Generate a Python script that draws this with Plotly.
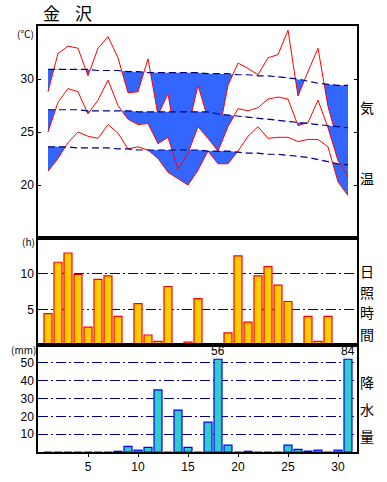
import numpy as np
import plotly.graph_objects as go
from plotly.subplots import make_subplots

# ---------------- data ----------------
days = list(range(1, 32))

tmax = [28.8, 32.4, 33.1, 32.9, 30.3, 32.9, 34.0, 32.0, 28.7, 28.8,
        31.9, 26.6, 28.6, 23.0, 25.3, 29.4, 26.2, 24.5, 29.4, 31.5,
        31.0, 30.4, 32.0, 32.3, 34.6, 28.4, 30.7, 32.9, 27.4, 24.0, 22.5]
tmean = [25.0, 27.8, 29.1, 28.8, 26.7, 28.0, 29.9, 27.5, 26.2, 25.7,
         25.8, 23.9, 24.5, 21.5, 23.0, 25.5, 24.4, 23.2, 25.5, 27.2,
         27.0, 27.3, 28.1, 28.3, 28.1, 25.6, 25.9, 28.0, 25.4, 22.3, 20.8]
tmin = [21.3, 22.5, 24.0, 25.0, 24.6, 24.4, 25.7, 24.9, 23.4, 23.6,
        23.3, 22.5, 21.2, 20.6, 20.0, 21.4, 23.2, 22.0, 22.0, 23.2,
        24.6, 25.5, 24.4, 24.5, 24.5, 24.1, 24.3, 24.3, 23.6, 20.3, 19.0]

tmax_norm = [30.9, 30.9, 30.9, 30.9, 30.9, 30.8, 30.8, 30.8, 30.7, 30.7,
             30.6, 30.6, 30.6, 30.6, 30.6, 30.6, 30.5, 30.5, 30.5, 30.4,
             30.4, 30.3, 30.3, 30.2, 30.1, 30.0, 29.8, 29.6, 29.5, 29.4, 29.4]
tmean_norm = [27.1, 27.1, 27.1, 27.1, 27.0, 27.0, 27.0, 27.0, 27.0, 26.9,
              26.9, 26.9, 26.9, 26.9, 26.9, 26.9, 26.9, 26.7, 26.6, 26.5,
              26.4, 26.3, 26.2, 26.1, 26.0, 25.9, 25.8, 25.7, 25.6, 25.5, 25.4]
tmin_norm = [23.6, 23.6, 23.6, 23.5, 23.5, 23.5, 23.5, 23.4, 23.4, 23.3,
             23.3, 23.3, 23.3, 23.3, 23.3, 23.3, 23.2, 23.2, 23.2, 23.1,
             23.0, 23.0, 22.9, 22.9, 22.8, 22.7, 22.6, 22.4, 22.2, 22.0, 21.9]

sunshine = [4.4, 11.6, 12.9, 9.9, 2.5, 9.2, 9.7, 4.0, 0.0, 5.8,
            1.4, 0.5, 8.2, 0.0, 0.4, 6.5, 0.0, 0.0, 1.7, 12.5,
            3.2, 9.7, 11.0, 8.4, 6.1, 0.1, 4.0, 0.5, 4.0, 0.0, 0.0]

rain = [0.0, 0.0, 0.0, 0.0, 0.0, 0.0, 0.0, 0.4, 3.2, 1.0,
        2.6, 34.8, 0.0, 23.5, 2.6, 0.0, 16.7, 56.0, 3.8, 0.0,
        0.4, 0.0, 0.0, 0.0, 3.8, 1.5, 0.5, 1.0, 0.0, 1.0, 84.0]
RAIN_CAP = 52  # bars above this are clipped and labelled

temp_ticks = [20, 25, 30]
sun_ticks = [5, 10]
rain_ticks = [10, 20, 30, 40, 50]
day_ticks = [5, 10, 15, 20, 25, 30]

# ---------------- style ----------------
BLUE = "#3366FF"
RED = "#FF0000"
NAVY = "#000080"
GOLD = "#FFCC00"
TURQ = "#33CCCC"
FONT = "Liberation Sans"
JFONT = "Noto Sans CJK JP"

W, H = 387, 482
# plot area in window pixels: x 38..357, y 26..452
ML, MR, MT, MB = 38, W - 357, 26, H - 452

fig = make_subplots(rows=3, cols=1, shared_xaxes=True, vertical_spacing=0,
                    row_heights=[212, 107, 107])


def below_band(x, norm, act):
    xs, ns, ls = [], [], []
    n = len(x)
    for i in range(n):
        xs.append(x[i]); ns.append(norm[i]); ls.append(min(norm[i], act[i]))
        if i < n - 1:
            d0 = act[i] - norm[i]
            d1 = act[i + 1] - norm[i + 1]
            if d0 * d1 < 0:
                t = d0 / (d0 - d1)
                xc = x[i] + t * (x[i + 1] - x[i])
                nc = norm[i] + t * (norm[i + 1] - norm[i])
                xs.append(xc); ns.append(nc); ls.append(nc)
    return xs, ns, ls


def add_fill(act, norm):
    xs, ns, ls = below_band(days, norm, act)
    fig.add_trace(go.Scatter(x=xs, y=ns, mode="lines", line=dict(width=0),
                             hoverinfo="skip", showlegend=False), row=1, col=1)
    fig.add_trace(go.Scatter(x=xs, y=ls, mode="lines", line=dict(width=0),
                             fill="tonexty", fillcolor=BLUE,
                             hoverinfo="skip", showlegend=False), row=1, col=1)


def add_line(act):
    fig.add_trace(go.Scatter(x=days, y=act, mode="lines",
                             line=dict(color=RED, width=1),
                             showlegend=False), row=1, col=1)


# drawing order: max band, then mean/min fills cover the max line where they overlap
add_fill(tmax, tmax_norm)
add_line(tmax)
add_fill(tmean, tmean_norm)
add_fill(tmin, tmin_norm)
add_line(tmean)
add_line(tmin)

for norm in [tmax_norm, tmean_norm, tmin_norm]:
    fig.add_trace(go.Scatter(x=days, y=norm, mode="lines",
                             line=dict(color=NAVY, width=1.2, dash="7px,4px"),
                             showlegend=False), row=1, col=1)

fig.add_trace(go.Bar(x=days, y=sunshine, width=0.8,
                     marker=dict(color=GOLD, line=dict(color=RED, width=1.2)),
                     showlegend=False), row=2, col=1)

rain_shown = list(np.minimum(np.array(rain), RAIN_CAP))
fig.add_trace(go.Bar(x=days, y=rain_shown, width=0.8,
                     marker=dict(color=TURQ, line=dict(color="#0000FF", width=1.2)),
                     showlegend=False), row=3, col=1)

for d, v, s in zip(days, rain, rain_shown):
    if v > RAIN_CAP:
        fig.add_annotation(x=d, y=s, xref="x3", yref="y3", text=f"{v:.0f}",
                           showarrow=False, yanchor="bottom", yshift=-1,
                           font=dict(family=FONT, size=12, color="black"))

axis_common = dict(showline=True, linecolor="black", linewidth=1.5, mirror=True,
                   zeroline=False, automargin=False)

for i in (1, 2, 3):
    fig.update_xaxes(range=[0, 31.9], showgrid=False, tickvals=day_ticks,
                     **axis_common, row=i, col=1)
fig.update_xaxes(ticks="", showticklabels=False, row=1, col=1)
fig.update_xaxes(ticks="", showticklabels=False, row=2, col=1)
fig.update_xaxes(ticks="outside", ticklen=3, tickcolor="black",
                 showticklabels=True, tickfont=dict(family=FONT, size=12, color="black"),
                 row=3, col=1)

fig.update_yaxes(range=[15, 35], tickvals=temp_ticks, showgrid=False,
                 ticks="inside", ticklen=3, tickcolor="black",
                 tickfont=dict(family=FONT, size=12, color="black"),
                 showline=True, linecolor="black", linewidth=1.5, mirror="ticks",
                 zeroline=False, automargin=False, row=1, col=1)
fig.update_yaxes(range=[0, 15], tickvals=sun_ticks, showgrid=True,
                 gridcolor=NAVY, gridwidth=1, griddash="10px,3px,2px,3px",
                 ticks="", tickfont=dict(family=FONT, size=12, color="black"),
                 **axis_common, row=2, col=1)
fig.update_yaxes(range=[0, 60], tickvals=rain_ticks, showgrid=True,
                 gridcolor=NAVY, gridwidth=1, griddash="10px,3px,2px,3px",
                 ticks="", tickfont=dict(family=FONT, size=12, color="black"),
                 **axis_common, row=3, col=1)


def paper(xp, yp):
    # window pixel -> paper fraction
    return (xp - ML) / (W - ML - MR), (H - MB - yp) / (H - MT - MB)


def label(text, xp, yp, size, family=JFONT):
    x, y = paper(xp, yp)
    fig.add_annotation(x=x, y=y, xref="paper", yref="paper", text=text,
                       showarrow=False, xanchor="center", yanchor="middle",
                       font=dict(family=family, size=size, color="black"))


label("金", 51.7, 13.0, 17)
label("沢", 83.3, 13.0, 17)
label("(℃)", 25, 33, 10)
label("(h)", 28, 241.5, 10)
label("(mm)", 23, 349, 10)
for ch, yp in [("気", 107.3), ("温", 178.3), ("日", 270.7), ("照", 291.7),
               ("時", 311.7), ("間", 334), ("降", 381.7), ("水", 409.3), ("量", 435.7)]:
    label(ch, 367.5, yp, 14)

fig.update_layout(width=W, height=H, margin=dict(l=ML, r=MR, t=MT, b=MB, autoexpand=False),
                  plot_bgcolor="white", paper_bgcolor="white",
                  showlegend=False, bargap=0.2)

fig.write_html("out.html", config={"displayModeBar": False},
               post_script="document.body.style.margin='0';document.body.style.padding='0';")
